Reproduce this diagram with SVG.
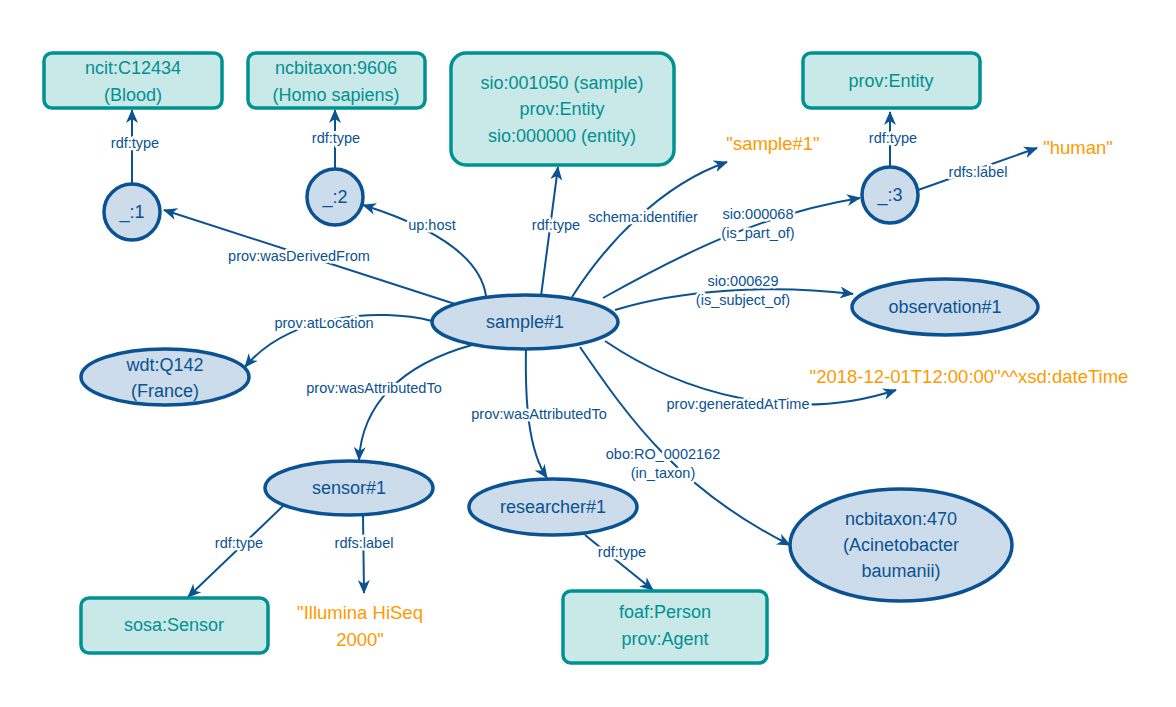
<svg xmlns="http://www.w3.org/2000/svg" width="1176" height="707" viewBox="0 0 1176 707">
<style>
.bg{fill:#ffffff}
.ell{fill:#cddcea;stroke:#0a5292;stroke-width:3.5}
.box{fill:#c9e8e8;stroke:#009191;stroke-width:3.5}
.nt{font-family:"Liberation Sans",Arial,sans-serif;font-size:18px;fill:#0a5292;text-anchor:middle}
.bt{font-family:"Liberation Sans",Arial,sans-serif;font-size:18px;fill:#009191;text-anchor:middle}
.lt{font-family:"Liberation Sans",Arial,sans-serif;font-size:18.5px;fill:#ff9a00;text-anchor:middle}
.e{fill:none;stroke:#0a5292;stroke-width:2;marker-end:url(#arr)}
.el{font-family:"Liberation Sans",Arial,sans-serif;font-size:14.5px;fill:#0a5292;text-anchor:middle;stroke:#ffffff;stroke-width:5;paint-order:stroke;stroke-linejoin:round}
</style>
<defs>
<marker id="arr" viewBox="0 0 14 12" refX="13" refY="6" markerWidth="14" markerHeight="12" markerUnits="userSpaceOnUse" orient="auto">
<path d="M0,0 L14,6 L0,12 L4,6 z" fill="#0a5292"/>
</marker>
</defs>
<rect class="bg" x="0" y="0" width="1176" height="707"/>
<g id="connectors">
<path class="e" d="M132,184 L132,110"/>
<text class="el" x="135" y="148">rdf:type</text>
<path class="e" d="M335,169 L335,110"/>
<text class="el" x="336" y="143">rdf:type</text>
<path class="e" d="M455,304 L164,210"/>
<text class="el" x="299" y="261">prov:wasDerivedFrom</text>
<path class="e" d="M486,296 C480,255 430,226 363,205"/>
<text class="el" x="432" y="230">up:host</text>
<path class="e" d="M541,296 L558,167"/>
<text class="el" x="556" y="230">rdf:type</text>
<path class="e" d="M572,297 C605,245 660,185 727,162"/>
<text class="el" x="643" y="222">schema:identifier</text>
<path class="e" d="M603,298 C680,255 760,214 860,198"/>
<text class="el" x="758" y="219">sio:000068</text>
<text class="el" x="758" y="238">(is_part_of)</text>
<path class="e" d="M890,167 L890,112"/>
<text class="el" x="893" y="143">rdf:type</text>
<path class="e" d="M918,190 L1037,148"/>
<text class="el" x="978" y="177">rdfs:label</text>
<path class="e" d="M615,310 C680,290 770,284 853,294"/>
<text class="el" x="743" y="286">sio:000629</text>
<text class="el" x="743" y="305">(is_subject_of)</text>
<path class="e" d="M432,321 C380,308 290,313 245,367"/>
<text class="el" x="324" y="328">prov:atLocation</text>
<path class="e" d="M472,345 C400,365 362,405 359,460"/>
<text class="el" x="374" y="393">prov:wasAttributedTo</text>
<path class="e" d="M526,349 C525,400 528,450 547,478"/>
<text class="el" x="539" y="419">prov:wasAttributedTo</text>
<path class="e" d="M605,341 C680,392 790,425 896,390"/>
<text class="el" x="738" y="409">prov:generatedAtTime</text>
<path class="e" d="M580,347 C630,420 680,490 790,545"/>
<text class="el" x="663" y="459">obo:RO_0002162</text>
<text class="el" x="663" y="478">(in_taxon)</text>
<path class="e" d="M283,506 L188,597"/>
<text class="el" x="239" y="548">rdf:type</text>
<path class="e" d="M363,516 L364,593"/>
<text class="el" x="364" y="548">rdfs:label</text>
<path class="e" d="M585,535 L653,590"/>
<text class="el" x="622" y="557">rdf:type</text>
</g>
<g id="ncit_C12434">
<rect class="box" x="44" y="53" width="178" height="55" rx="8"/>
<text class="bt" x="133" y="74">ncit:C12434</text>
<text class="bt" x="133" y="101">(Blood)</text>
</g>
<g id="ncbitaxon_9606">
<rect class="box" x="248" y="53" width="177" height="55" rx="8"/>
<text class="bt" x="336" y="74">ncbitaxon:9606</text>
<text class="bt" x="336" y="101">(Homo sapiens)</text>
</g>
<g id="sio_box">
<rect class="box" x="451" y="53" width="223" height="112" rx="15"/>
<text class="bt" x="562" y="89">sio:001050 (sample)</text>
<text class="bt" x="562" y="115">prov:Entity</text>
<text class="bt" x="562" y="142">sio:000000 (entity)</text>
</g>
<g id="prov_Entity">
<rect class="box" x="803" y="53" width="177" height="55" rx="8"/>
<text class="bt" x="891" y="87">prov:Entity</text>
</g>
<g id="lit_sample1">
<text class="lt" x="773" y="150">"sample#1"</text>
</g>
<g id="lit_human">
<text class="lt" x="1078" y="154">"human"</text>
</g>
<g id="b1">
<circle class="ell" cx="132" cy="212" r="28"/>
<text class="nt" x="132" y="218">_:1</text>
</g>
<g id="b2">
<circle class="ell" cx="335" cy="197" r="28"/>
<text class="nt" x="335" y="203">_:2</text>
</g>
<g id="b3">
<circle class="ell" cx="890" cy="195" r="28"/>
<text class="nt" x="890" y="201">_:3</text>
</g>
<g id="sample1">
<ellipse class="ell" cx="525" cy="322" rx="93" ry="27"/>
<text class="nt" x="525" y="328">sample#1</text>
</g>
<g id="observation1">
<ellipse class="ell" cx="945" cy="307" rx="93" ry="28"/>
<text class="nt" x="945" y="313">observation#1</text>
</g>
<g id="wdt_Q142">
<ellipse class="ell" cx="165" cy="377" rx="84" ry="28"/>
<text class="nt" x="165" y="371">wdt:Q142</text>
<text class="nt" x="165" y="397">(France)</text>
</g>
<g id="lit_datetime">
<text class="lt" x="969" y="383">"2018-12-01T12:00:00"^^xsd:dateTime</text>
</g>
<g id="sensor1">
<ellipse class="ell" cx="349" cy="488" rx="84" ry="27"/>
<text class="nt" x="349" y="494">sensor#1</text>
</g>
<g id="researcher1">
<ellipse class="ell" cx="553" cy="507" rx="84" ry="28"/>
<text class="nt" x="553" y="513">researcher#1</text>
</g>
<g id="ncbitaxon_470">
<ellipse class="ell" cx="901" cy="545" rx="111" ry="56"/>
<text class="nt" x="901" y="525">ncbitaxon:470</text>
<text class="nt" x="901" y="551">(Acinetobacter</text>
<text class="nt" x="901" y="577">baumanii)</text>
</g>
<g id="sosa_Sensor">
<rect class="box" x="81" y="598" width="187" height="55" rx="8"/>
<text class="bt" x="174" y="631">sosa:Sensor</text>
</g>
<g id="lit_illumina">
<text class="lt" x="360" y="619">"Illumina HiSeq</text>
<text class="lt" x="360" y="646">2000"</text>
</g>
<g id="foaf_Person">
<rect class="box" x="563" y="591" width="204" height="72" rx="8"/>
<text class="bt" x="665" y="618">foaf:Person</text>
<text class="bt" x="665" y="645">prov:Agent</text>
</g>
</svg>
